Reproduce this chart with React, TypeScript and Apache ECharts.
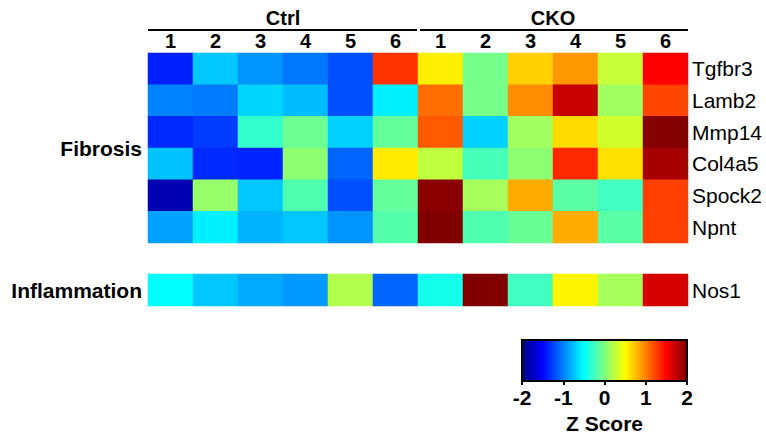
import React, { useEffect, useRef } from "react";
import * as echarts from "echarts";

// ---- data ----
const groups = ["Ctrl", "CKO"];
const replicates = ["1", "2", "3", "4", "5", "6"];
const fibrosisGenes = ["Tgfbr3", "Lamb2", "Mmp14", "Col4a5", "Spock2", "Npnt"];
const inflammationGenes = ["Nos1"];
const categoryFibrosis = ["Fibrosis"];
const categoryInflammation = ["Inflammation"];

// z-scores: Ctrl 1-6, CKO 1-6
const tgfbr3 = [-1.38, -0.72, -0.92, -1.03, -1.19, 1.3, 0.56, -0.04, 0.68, 0.91, 0.28, 1.5];
const lamb2 = [-0.99, -1.02, -0.66, -0.76, -1.19, -0.56, 1.07, -0.04, 0.95, 1.72, 0.13, 1.23];
const mmp14 = [-1.34, -1.27, -0.3, -0.07, -0.68, -0.11, 1.15, -0.68, 0.13, 0.64, 0.32, 1.98];
const col4a5 = [-0.74, -1.34, -1.36, 0.05, -1.11, 0.58, 0.25, -0.23, 0.05, 1.34, 0.62, 1.85];
const spock2 = [-1.8, 0.09, -0.72, -0.19, -1.19, -0.11, 1.96, 0.15, 0.83, -0.15, -0.25, 1.25];
const npnt = [-0.87, -0.56, -0.8, -0.72, -0.92, -0.17, 2.0, -0.19, -0.09, 0.83, -0.15, 1.25];
const nos1 = [-0.5, -0.72, -0.83, -0.9, 0.2, -1.11, -0.42, 2.0, -0.25, 0.54, 0.15, 1.66];

const colorbarTicks = { min: -2, max: 2, interval: 1 };
const colorbarTitle = "Z Score";

const jet = [
  "#000080", "#0000ff", "#0080ff", "#00ffff", "#80ff80",
  "#ffff00", "#ff8000", "#ff0000", "#800000",
];

const FONT = 'Arial, "Liberation Sans", sans-serif';

export default function App() {
  const ref = useRef<HTMLDivElement>(null);
  useEffect(() => {
    if (!ref.current) return;
    const chart = echarts.init(ref.current, undefined, { renderer: "svg" });

    const columns = groups.flatMap(() => replicates);
    const fibrosisRows = [tgfbr3, lamb2, mmp14, col4a5, spock2, npnt];
    const fibrosisData: number[][] = [];
    fibrosisRows.forEach((row, yi) =>
      row.forEach((v, xi) => fibrosisData.push([xi, yi, v]))
    );
    const nosData = nos1.map((v, xi) => [xi, 0, v]);

    const gradient = new echarts.graphic.LinearGradient(
      0, 0, 1, 0,
      jet.map((c, i) => ({ offset: i / (jet.length - 1), color: c }))
    );

    const hidden = {
      axisLine: { show: false },
      axisTick: { show: false },
      splitLine: { show: false },
    };

    chart.setOption({
      animation: false,
      textStyle: { fontFamily: FONT, color: "#000" },
      grid: [
        { left: 148, top: 53, width: 540, height: 190 },
        { left: 148, top: 274, width: 540, height: 32 },
        {
          left: 522, top: 340, width: 165, height: 41,
          show: true, backgroundColor: gradient,
          borderColor: "#000", borderWidth: 2,
        },
      ],
      xAxis: [
        {
          gridIndex: 0, type: "category", data: columns, position: "top",
          ...hidden,
          axisLabel: { interval: 0, fontSize: 20, fontWeight: "bold", color: "#000", margin: 2, fontFamily: FONT },
        },
        {
          gridIndex: 0, type: "category", data: groups, position: "top", offset: 23,
          ...hidden,
          axisLabel: { interval: 0, fontSize: 20, fontWeight: "bold", color: "#000", margin: 2, fontFamily: FONT },
        },
        { gridIndex: 1, type: "category", data: columns, show: false },
        {
          gridIndex: 2, type: "value", ...colorbarTicks,
          axisLine: { show: true, lineStyle: { color: "#000", width: 2 } },
          axisTick: { show: true, length: 4, lineStyle: { color: "#000", width: 2 } },
          splitLine: { show: false },
          axisLabel: { fontSize: 21, fontWeight: "bold", color: "#000", margin: 6, fontFamily: FONT },
          name: colorbarTitle, nameLocation: "middle", nameGap: 32,
          nameTextStyle: { fontSize: 21, fontWeight: "bold", color: "#000", fontFamily: FONT },
        },
      ],
      yAxis: [
        {
          gridIndex: 0, type: "category", data: fibrosisGenes, inverse: true, position: "right",
          ...hidden,
          axisLabel: { fontSize: 21, color: "#000", margin: 4, fontFamily: FONT },
        },
        {
          gridIndex: 0, type: "category", data: categoryFibrosis, position: "left",
          ...hidden,
          axisLabel: { fontSize: 21, fontWeight: "bold", color: "#000", margin: 6, fontFamily: FONT },
        },
        {
          gridIndex: 1, type: "category", data: inflammationGenes, position: "right",
          ...hidden,
          axisLabel: { fontSize: 21, color: "#000", margin: 4, fontFamily: FONT },
        },
        {
          gridIndex: 1, type: "category", data: categoryInflammation, position: "left",
          ...hidden,
          axisLabel: { fontSize: 21, fontWeight: "bold", color: "#000", margin: 6, fontFamily: FONT },
        },
        { gridIndex: 2, type: "value", min: 0, max: 1, show: false },
      ],
      visualMap: {
        type: "continuous", min: -2, max: 2, show: false,
        seriesIndex: [0, 1], inRange: { color: jet },
      },
      graphic: [
        { type: "line", shape: { x1: 148, y1: 30, x2: 417, y2: 30 }, style: { stroke: "#000", lineWidth: 2 } },
        { type: "line", shape: { x1: 420, y1: 30, x2: 688, y2: 30 }, style: { stroke: "#000", lineWidth: 2 } },
      ],
      series: [
        { type: "heatmap", xAxisIndex: 0, yAxisIndex: 0, data: fibrosisData, itemStyle: { borderWidth: 0 } },
        { type: "heatmap", xAxisIndex: 2, yAxisIndex: 2, data: nosData, itemStyle: { borderWidth: 0 } },
      ],
    });
    return () => chart.dispose();
  }, []);
  return (
    <div
      ref={ref}
      style={{ position: "fixed", left: 0, top: 0, width: 766, height: 436, background: "#fff" }}
    />
  );
}
